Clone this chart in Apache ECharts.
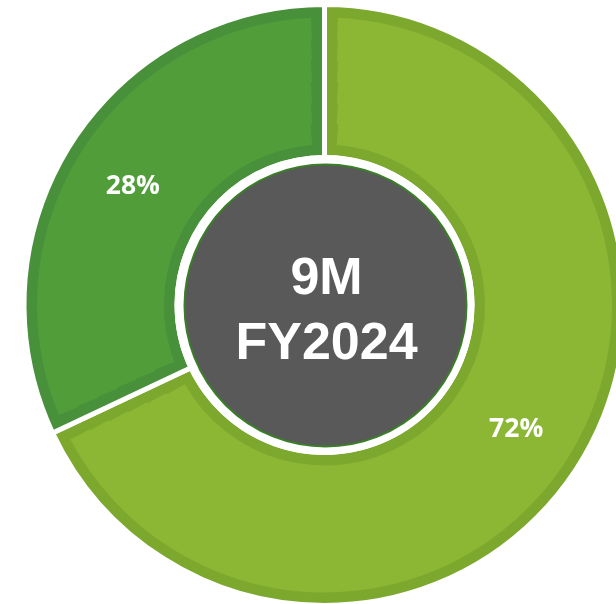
<!DOCTYPE html>
<html>
<head>
<meta charset="utf-8">
<script src="https://cdn.jsdelivr.net/npm/echarts@6/dist/echarts.min.js"></script>
<style>
  html, body { margin: 0; padding: 0; background: #fff; }
  #chart { width: 616px; height: 604px; }
</style>
</head>
<body>
<div id="chart"></div>
<script>
// slice shares as drawn (angle) and the printed labels
var sliceNames = ['72%', '28%'];
var sliceShares = [68, 32];
var sliceLabels = ['72%', '28%'];
var centerLines = ['9M', 'FY2024'];

var fillColors = ['#8BB735', '#509D39'];
var frameColors = ['#7CA82E', '#48903A'];

var chart = echarts.init(document.getElementById('chart'));

var cx = 324.5, cy = 305;
var rIn = 150, rOut = 298, frame = 10.5, seam = 5;

function sliceData(colors) {
  return sliceShares.map(function (v, i) {
    return { name: sliceNames[i], value: v, itemStyle: { color: colors[i] } };
  });
}

var series = [];

// dark frame ring, white seams from the border
series.push({
  type: 'pie',
  center: [cx, cy],
  radius: [rIn - seam / 2, rOut + seam / 2],
  startAngle: 90,
  clockwise: true,
  silent: true,
  label: { show: false },
  labelLine: { show: false },
  itemStyle: { borderColor: '#fff', borderWidth: seam },
  data: sliceData(frameColors)
});

// lighter fill inset from the frame, in thin rings so the side gap stays even
var bands = 6;
var r0 = rIn + frame, r1 = rOut - frame;
var gap = seam / 2 + frame;
for (var b = 0; b < bands; b++) {
  var a = r0 + (r1 - r0) * b / bands;
  var c = r0 + (r1 - r0) * (b + 1) / bands;
  var mid = (a + c) / 2;
  var pad = 2 * Math.asin(gap / mid) * 180 / Math.PI;
  series.push({
    type: 'pie',
    center: [cx, cy],
    radius: [b === 0 ? a : a - 0.6, b === bands - 1 ? c : c + 0.6],
    startAngle: 90,
    clockwise: true,
    padAngle: pad,
    silent: true,
    label: { show: false },
    labelLine: { show: false },
    data: sliceData(fillColors)
  });
}

// labels
series.push({
  type: 'pie',
  center: [cx, cy + 3],
  radius: [rIn, rOut],
  startAngle: 90,
  clockwise: true,
  silent: true,
  itemStyle: { color: 'transparent' },
  label: {
    show: true,
    position: 'inside',
    formatter: function (p) { return sliceLabels[p.dataIndex]; },
    color: '#fff',
    fontFamily: 'Open Sans',
    fontWeight: 'bold',
    fontSize: 26.5
  },
  labelLine: { show: false },
  data: sliceShares.map(function (v, i) {
    return { name: sliceNames[i], value: v, itemStyle: { color: 'transparent' } };
  })
});

// white gap round the hub
series.push({
  type: 'pie',
  center: [cx, cy],
  radius: [0, rIn],
  silent: true,
  label: { show: false },
  labelLine: { show: false },
  data: [{ value: 1, itemStyle: { color: '#fff' } }]
});

// grey hub with the period text
series.push({
  type: 'pie',
  center: [cx + 1, cy + 0.5],
  radius: [0, 141],
  silent: true,
  itemStyle: { color: '#595959', borderColor: '#3A7F27', borderWidth: 2 },
  label: {
    show: true,
    position: 'center',
    formatter: centerLines.join('\n'),
    color: '#fff',
    fontFamily: 'Liberation Sans',
    fontWeight: 'bold',
    fontSize: 52,
    lineHeight: 65,
    offset: [1, 7]
  },
  labelLine: { show: false },
  data: [{ value: 1, name: 'hub' }]
});

var option = {
  animation: false,
  backgroundColor: '#fff',
  series: series
};

chart.setOption(option);
</script>
</body>
</html>
